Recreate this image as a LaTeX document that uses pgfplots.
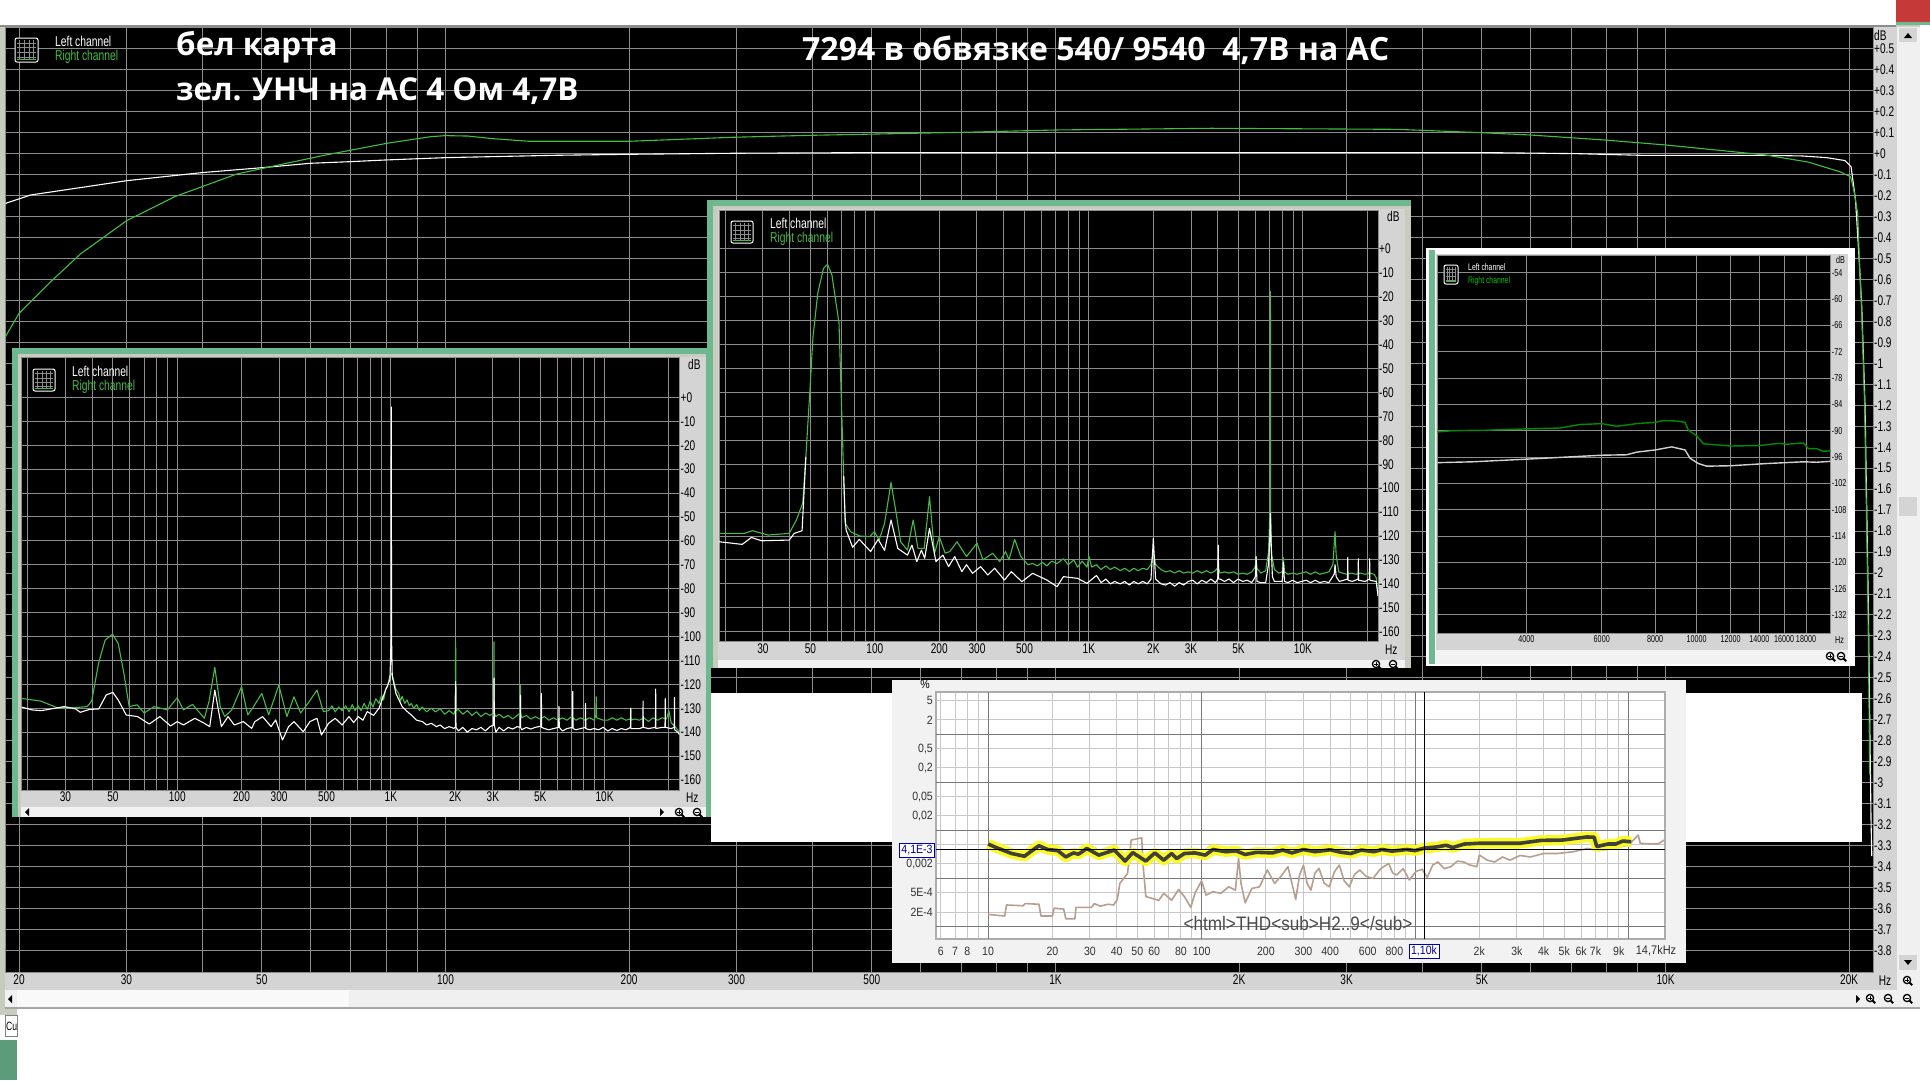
\documentclass[border=0pt]{standalone}
\usepackage{fontspec}
\setmainfont{Liberation Sans}
\newfontfamily\narrow[FakeStretch=0.72]{Liberation Sans}
\newfontfamily\semi[FakeStretch=0.88]{Liberation Sans}
\newfontfamily\headf{Open Sans}
\usepackage{pgfplots}
\pgfplotsset{compat=1.18}

\definecolor{gridc}{RGB}{140,140,140}
\definecolor{band}{RGB}{212,212,212}
\definecolor{winline}{RGB}{200,204,190}
\definecolor{pgreen}{RGB}{109,184,143}
\definecolor{sgreen}{RGB}{70,185,70}
\definecolor{lgreen}{RGB}{64,190,64}
\definecolor{tan}{RGB}{184,158,142}
\definecolor{thdy}{RGB}{250,250,40}
\definecolor{thdk}{RGB}{64,64,56}
\definecolor{lightg}{RGB}{200,200,200}
\definecolor{darkg}{RGB}{120,120,120}

% defaults shared by every axis
\pgfplotsset{
  scale only axis,
  major tick length=0pt, minor tick length=0pt, minor tick num=0,
  xmajorgrids, ymajorgrids,
  no markers,
  every axis plot/.append style={line join=round},
}
\newcommand\magn[3]{%
  \draw[black,line width=1.3pt] (#1,-#2) circle (3.6);
  \draw[black,line width=1.8pt] (#1+2.6,-#2-2.6) -- (#1+5.2,-#2-5.2);
  \draw[black,line width=0.8pt] (#1-2,-#2) -- (#1+2,-#2);
  \ifnum#3=1 \draw[black,line width=0.8pt] (#1,-#2-2) -- (#1,-#2+2);\fi
}
\newcommand\icon[4]{%
  \draw[white,fill=black,line width=1pt,rounded corners=2pt] (#1,-#2) rectangle (#3,-#4);
  \foreach \k in {0.2,0.4,0.6,0.8}{
    \draw[gridc,line width=0.5pt] ({#1+\k*(#3-#1)},-#2-2) -- ({#1+\k*(#3-#1)},-#4+2);
    \draw[gridc,line width=0.5pt] (#1+2,{-#2-\k*(#4-#2)}) -- (#3-2,{-#2-\k*(#4-#2)});
  }
  \draw[lgreen,line width=1pt] (#1+2,-#4+3) -- (#3-2,-#4+3);
}
% small window text: x, y (down), size, anchor, colour, text
\newcommand\lab[6]{\node[anchor=#4,inner sep=0pt,text=#5,font=\narrow\fontsize{#3}{#3}\selectfont] at (#1,-#2) {#6};}

\begin{document}
\begin{tikzpicture}[x=1pt,y=1pt]
\useasboundingbox (0,0) rectangle (1930,-1080);
\fill[white] (0,0) rectangle (1930,-1080);
% window frame
\fill[winline] (0,-25) rectangle (1920,-1015);
\fill[gridc] (0,-25) rectangle (1896,-27);
\fill[white] (17,-1009) rectangle (1930,-1080);
\fill[pgreen!85!black] (0,-1040) rectangle (17,-1080);
\draw[gray,fill=white] (5,-1015) rectangle (17,-1036);
\node[anchor=west,inner sep=1pt,font=\narrow\fontsize{12}{12}\selectfont] at (5,-1026) {Cu};
\fill[pgreen] (1896,-22) rectangle (1930,-25);
\fill[red!55!gray] (1896,0) rectangle (1930,-22);
\fill[band] (5,-973) rectangle (1897,-990);
\fill[band] (1873,-27) rectangle (1897,-990);
\fill[gray!12] (1897,-27) rectangle (1920,-1008);
\fill[gray!12] (5,-990) rectangle (1920,-1008);
\fill[gray!5] (17,-990) rectangle (349,-1007);
\draw[gray!70,line width=1.2pt] (5,-1008) -- (1920,-1008);
\fill[band] (1899,-28) rectangle (1917,-42);
\fill[black] (1904,-38) -- (1912,-38) -- (1908,-33) -- cycle;
\fill[band] (1899,-497) rectangle (1917,-516);
\fill[band] (1899,-955) rectangle (1917,-970);
\fill[black] (1904,-960) -- (1912,-960) -- (1908,-965) -- cycle;
\fill[black] (8,-999) -- (12,-995) -- (12,-1003) -- cycle;
\fill[black] (1856,-995) -- (1856,-1003) -- (1860,-999) -- cycle;

\begin{semilogxaxis}[width=1868pt, height=945.7pt,
  xmin=18.97, xmax=21880, ymin=-3.906, ymax=0.604,
  axis background/.style={fill=black},
  axis line style={draw=gridc,line width=0.6pt},
  grid style={draw=gridc,line width=1pt},
  yticklabel pos=right,
  xtick={20,30,40,50,60,70,80,90,100,200,300,400,500,600,700,800,900,1000,2000,3000,4000,5000,6000,7000,8000,9000,10000,20000},
  xticklabels={20,30,,50,,,,,100,200,300,,500,,,,,1K,2K,3K,,5K,,,,,10K,20K},
  ytick={0.5,0.4,0.3,0.2,0.1,0,-0.1,-0.2,-0.3,-0.4,-0.5,-0.6,-0.7,-0.8,-0.9,-1,-1.1,-1.2,-1.3,-1.4,-1.5,-1.6,-1.7,-1.8,-1.9,-2,-2.1,-2.2,-2.3,-2.4,-2.5,-2.6,-2.7,-2.8,-2.9,-3,-3.1,-3.2,-3.3,-3.4,-3.5,-3.6,-3.7,-3.8},
  yticklabels={+0.5,+0.4,+0.3,+0.2,+0.1,+0,-0.1,-0.2,-0.3,-0.4,-0.5,-0.6,-0.7,-0.8,-0.9,-1,-1.1,-1.2,-1.3,-1.4,-1.5,-1.6,-1.7,-1.8,-1.9,-2,-2.1,-2.2,-2.3,-2.4,-2.5,-2.6,-2.7,-2.8,-2.9,-3,-3.1,-3.2,-3.3,-3.4,-3.5,-3.6,-3.7,-3.8},
  tick label style={font=\narrow\fontsize{14}{14}\selectfont,inner sep=1pt},
  xticklabel style={yshift=-1pt},
  at={(5pt,-27pt)}, anchor=north west,
]
\addplot[white,line width=1.1pt] coordinates {
(19,-0.237) (20.9,-0.197) (25.2,-0.162) (30,-0.129) (40,-0.09) (50,-0.067) (60,-0.046) (70,-0.038)
(80,-0.03) (100,-0.019) (150,-0.008) (200,-0.003) (300,0.002) (500,0.005) (5095,0.005) (7160,0)
(9140,-0.008) (14550,-0.008) (16760,-0.011) (18370,-0.019) (19690,-0.033) (20140,-0.062) (20480,-0.22)
(20800,-0.54) (20970,-0.73) (21230,-1.2) (21500,-2.16) (21640,-2.83) (21720,-3.19) (21780,-3.35)
};
\addplot[lgreen,line width=1.1pt] coordinates {
(19,-0.873) (20,-0.762) (22.4,-0.618) (25.2,-0.479) (30,-0.32) (36,-0.205) (45.5,-0.097) (51.7,-0.062)
(63.7,-0.006) (80,0.049) (94.6,0.081) (100,0.086) (108.8,0.084) (119,0.072) (137,0.059) (200,0.059)
(295,0.078) (390,0.087) (710,0.102) (1005,0.113) (1800,0.121) (3630,0.116) (4990,0.10) (6000,0.089)
(7960,0.065) (10040,0.041) (14560,-0.006) (17130,-0.04) (19300,-0.086) (20100,-0.11) (20350,-0.173)
(20650,-0.285) (20800,-0.54) (20950,-0.73) (21200,-1.2) (21470,-2.16) (21610,-2.96)
};
\end{semilogxaxis}
\icon{15}{38}{38}{62}
\lab{55}{41}{14.3}{west}{white}{Left channel}
\lab{55}{57}{14.3}{west}{lgreen}{Right channel}
\node[anchor=west,inner sep=0pt,white,font=\headf\bfseries\fontsize{31.5}{31.5}\selectfont] at (176,-47) {бел карта};
\node[anchor=west,inner sep=0pt,white,font=\headf\bfseries\fontsize{31.5}{31.5}\selectfont] at (176,-91) {зел. УНЧ на АС 4 Ом 4,7В};
\node[anchor=west,inner sep=0pt,white,font=\headf\bfseries\fontsize{32}{32}\selectfont] at (802,-50) {7294 в обвязке 540/ 9540\ \ 4,7В на АС};
\lab{1874}{35}{14}{west}{black}{dB}
\lab{1885}{981}{14}{center}{black}{Hz}
\magn{1870}{998}{1} \magn{1888}{998}{0} \magn{1907}{998}{0} \magn{1907}{980}{1}

% left spectrum window
\fill[pgreen] (12,-348) rectangle (711,-817);
\fill[winline] (18,-354) rectangle (706,-817);
\fill[band] (21,-357) rectangle (706,-817);
\fill[gray!10] (21,-807) rectangle (706,-817);
\begin{semilogxaxis}[width=657.9pt, height=432.3pt,
  xmin=18.7, xmax=22430, ymin=-164.2, ymax=16.6,
  axis background/.style={fill=black},
  axis line style={draw=gridc,line width=0.6pt},
  grid style={draw=gridc,line width=1pt},
  yticklabel pos=right,
  xtick={20,30,40,50,60,70,80,90,100,200,300,400,500,600,700,800,900,1000,2000,3000,4000,5000,6000,7000,8000,9000,10000,20000},
  xticklabels={,30,,50,,,,,100,200,300,,500,,,,,1K,2K,3K,,5K,,,,,10K,},
  ytick={0,-10,-20,-30,-40,-50,-60,-70,-80,-90,-100,-110,-120,-130,-140,-150,-160},
  yticklabels={+0,-10,-20,-30,-40,-50,-60,-70,-80,-90,-100,-110,-120,-130,-140,-150,-160},
  tick label style={font=\narrow\fontsize{14}{14}\selectfont,inner sep=1pt},
  xticklabel style={yshift=-1pt},
  at={(21.6pt,-357.7pt)}, anchor=north west]
\pgfplotsinvokeforeach{0,-10,-20,-30,-40,-50,-60,-70,-80,-90,-100,-110,-120,-130,-140,-150,-160}{
  \addplot[gridc,line width=1pt,forget plot] coordinates {(18.7,#1) (22430,#1)};
}
\addplot[sgreen,line width=1.1pt] coordinates {
(18.7,-125.9) (23,-127) (27.5,-129.8) (32.7,-129.8) (37.9,-129.3) (39.8,-127) (42.9,-111) (46,-101.5)
(49.8,-99) (53,-103) (56.3,-115.4) (59.6,-129.3) (65,-128.6) (70,-132) (78,-129.3) (90,-130.7) (100,-125.6)
(107,-130.7) (118,-128.4) (134,-134.2) (141,-127) (150,-112.9) (159,-129.3) (167,-133.5) (180,-130.7)
(200,-121) (214,-132.8) (225,-130) (249,-123.8) (268,-132.8) (299,-120.3) (326,-133.5) (352,-125.2)
(378,-132) (415,-127.2) (451,-122.4) (483,-131.4) (511,-131) (530,-129) (549,-131.5) (570,-129.5)
(591,-131) (615,-129) (637,-131.5) (660,-128.5) (680,-131) (703,-129) (725,-131) (750,-128) (776,-130.5)
(800,-127) (825,-129.5) (850,-126) (880,-128) (905,-124.5) (925,-126.5) (945,-122) (965,-121) (985,-117)
(1000,-115.4) (1015,-116) (1040,-120) (1056,-122) (1090,-124) (1110,-127) (1129,-125) (1160,-128)
(1190,-126.5) (1220,-129) (1245,-128) (1280,-130) (1320,-128.5) (1360,-131) (1400,-129.5) (1470,-131.5)
(1545,-130) (1620,-131.5) (1700,-130.2) (1785,-132.5) (1875,-131) (1970,-132.5) (2000,-131) (2010,-102.2)
(2020,-131) (2070,-130.5) (2170,-132.5) (2280,-131) (2395,-133) (2515,-131.5) (2640,-133.5) (2770,-132)
(2910,-133) (3030,-132) (3040,-102.2) (3050,-132) (3100,-133.5) (3210,-132.5) (3370,-134) (3540,-133)
(3715,-134.5) (3900,-133) (4030,-132) (4040,-120.3) (4050,-132) (4095,-134) (4300,-133) (4515,-134.5)
(4740,-133.5) (4980,-134.5) (5230,-133.5) (5490,-135) (5765,-134) (6050,-135) (6355,-134) (6670,-135)
(7005,-133.5) (7355,-135) (7720,-134) (8105,-135) (8510,-134) (8935,-135) (9100,-133) (9140,-125.2)
(9180,-134) (9855,-135) (10350,-135) (10865,-134) (11410,-135) (11980,-134) (12580,-135) (13220,-134.5)
(13260,-130) (13300,-135) (13870,-134.5) (14560,-135) (15290,-134) (16055,-135.5) (16860,-134) (17700,-135)
(18585,-134) (19515,-134.5) (20000,-131) (20490,-136) (21515,-138) (22430,-140)
};
\addplot[white,line width=1.1pt] coordinates {
(18.7,-129.5) (20.9,-130.7) (23.1,-131) (26.8,-130) (29.6,-129.3) (33.5,-130.3) (35.2,-131.7) (38.8,-130.5)
(42.9,-130.3) (46.6,-124.4) (50,-123.4) (53,-126.6) (57.7,-132.8) (65.3,-133.5) (74,-136.6) (83,-133.5)
(93,-137.4) (100,-135.6) (107,-137) (121,-134.2) (134,-136.3) (142,-137.7) (150,-122.4) (161,-137.7)
(173,-133.5) (185,-137) (204,-135.6) (223,-138.4) (231,-135.6) (251,-133.5) (275,-137.7) (289,-134.9)
(311,-143.3) (332,-137.7) (352,-135.6) (389,-139.8) (418,-135.6) (451,-134.2) (473,-141.2) (511,-136.3)
(549,-134.2) (591,-137) (637,-133.5) (670,-136) (703,-133.5) (740,-135) (776,-131.4) (830,-133) (880,-130)
(945,-122.4) (990,-118) (1003,-100) (1005,-4) (1007,-100) (1015,-116.5) (1056,-123.8) (1129,-129.3)
(1180,-131) (1245,-132.8) (1320,-135) (1405,-135.6) (1470,-137) (1545,-136.3) (1635,-137.7) (1700,-137)
(1785,-138.5) (1875,-137.7) (1970,-138.4) (2003,-138) (2010,-118.9) (2017,-138) (2070,-139.5) (2170,-138)
(2280,-140) (2395,-138.5) (2515,-139) (2640,-138) (2770,-139.5) (2910,-137.7) (3030,-137) (3040,-117.5)
(3050,-137) (3100,-140) (3210,-138) (3370,-139.5) (3540,-138) (3715,-138.7) (3900,-137.7) (4030,-138)
(4040,-124.5) (4050,-138) (4095,-139) (4300,-138) (4515,-138.7) (4740,-138) (5040,-137.5) (5060,-123.8)
(5080,-138) (5230,-138.5) (5490,-139) (5765,-138.5) (6100,-138) (6120,-129.3) (6140,-138) (6355,-139.5)
(6670,-138.5) (7080,-138) (7100,-123) (7120,-138.5) (7355,-139) (7720,-138.5) (8130,-138) (8150,-128)
(8170,-138.5) (8510,-139) (8935,-138.5) (9385,-139) (9855,-138) (10350,-139.5) (10865,-138.5) (11410,-139.3)
(11980,-138.5) (12580,-139) (13230,-138) (13260,-130) (13290,-138.5) (14560,-138.5) (15120,-138) (15150,-127)
(15180,-138) (16055,-138.5) (17310,-138) (17350,-122) (17390,-138.5) (18585,-138) (19190,-138) (19230,-126)
(19270,-138) (20490,-138.5) (21200,-138) (21240,-125.5) (21280,-139) (22000,-140) (22430,-141)
};
\end{semilogxaxis}
\icon{33}{369}{55}{391}
\lab{72}{371}{14.3}{west}{white}{Left channel}
\lab{72}{387}{14.3}{west}{sgreen}{Right channel}
\lab{688}{364}{14}{west}{black}{dB}
\lab{686}{798}{14}{west}{black}{Hz}
\magn{679}{812}{1} \magn{697}{812}{0}
\fill[black] (25,-812) -- (29,-808) -- (29,-816) -- cycle;
\fill[black] (660,-808) -- (660,-816) -- (664,-812) -- cycle;

% middle spectrum window
\fill[pgreen] (707,-200) rectangle (1411,-668);
\fill[winline] (713,-206) rectangle (1411,-668);
\fill[band] (718,-209) rectangle (1405,-668);
\fill[gray!10] (718,-660) rectangle (1405,-668);
\begin{semilogxaxis}[width=659pt, height=431.7pt,
  xmin=18.7, xmax=22430, ymin=-164.2, ymax=16.3,
  axis background/.style={fill=black},
  axis line style={draw=gridc,line width=0.6pt},
  grid style={draw=gridc,line width=1pt},
  yticklabel pos=right,
  xtick={20,30,40,50,60,70,80,90,100,200,300,400,500,600,700,800,900,1000,2000,3000,4000,5000,6000,7000,8000,9000,10000,20000},
  xticklabels={,30,,50,,,,,100,200,300,,500,,,,,1K,2K,3K,,5K,,,,,10K,},
  ytick={0,-10,-20,-30,-40,-50,-60,-70,-80,-90,-100,-110,-120,-130,-140,-150,-160},
  yticklabels={+0,-10,-20,-30,-40,-50,-60,-70,-80,-90,-100,-110,-120,-130,-140,-150,-160},
  tick label style={font=\narrow\fontsize{14}{14}\selectfont,inner sep=1pt},
  xticklabel style={yshift=-1pt},
  at={(719pt,-210pt)}, anchor=north west]
\pgfplotsinvokeforeach{0,-10,-20,-30,-40,-50,-60,-70,-80,-90,-100,-110,-120,-130,-140,-150,-160}{
  \addplot[gridc,line width=1pt,forget plot] coordinates {(18.7,#1) (22430,#1)};
}
\addplot[sgreen,line width=1.1pt] coordinates {
(18.7,-118.9) (24.6,-118.9) (26.8,-117.8) (31.7,-119.6) (39.8,-118.9) (43,-113.3) (46,-106.3) (47.6,-86.8)
(49.3,-64.5) (51.4,-36.7) (54.1,-18.5) (57.5,-8.1) (60.1,-6.4) (63,-10.9) (68,-31) (70.5,-77) (71.5,-95.2)
(72.6,-114.7) (77,-118.2) (85,-120) (94.5,-120.3) (99.5,-118.2) (104.7,-121.7) (111,-114.7) (119,-97.6)
(125,-109.1) (132,-122.4) (142,-125.9) (151,-113.3) (159,-125.2) (170,-125.2) (180,-103.6) (190,-127.2)
(200,-120.3) (213,-127.2) (224,-126.5) (242,-122.4) (268,-128.6) (300,-123) (320,-130) (355,-127.2)
(383,-130.7) (408,-126.5) (423,-130) (450,-121.4) (481,-128.6) (519,-132) (546,-131.5) (575,-132.5)
(605,-131) (636,-132.5) (670,-130.5) (710,-131.5) (760,-129.5) (800,-132) (850,-130) (885,-133) (930,-130.5)
(980,-133) (1000,-128.5) (1030,-133) (1085,-132) (1140,-134) (1200,-132.5) (1260,-134) (1320,-133)
(1400,-134.5) (1470,-133.5) (1545,-134.8) (1620,-133.5) (1700,-134.5) (1785,-133.5) (1875,-134) (1950,-132)
(2000,-127) (2050,-132) (2170,-134) (2280,-135) (2395,-134.5) (2515,-135.5) (2640,-134.5) (2770,-135.5)
(2910,-135) (3055,-135.5) (3210,-134.5) (3370,-135.5) (3540,-134.5) (3715,-135.5) (3900,-134.5) (4020,-133)
(4095,-135.5) (4300,-135) (4515,-135.5) (4740,-135) (4980,-136) (5230,-135.5) (5490,-136) (5765,-135)
(5980,-133) (6040,-128.6) (6100,-133.5) (6355,-135.5) (6700,-134.5) (6900,-127) (7000,-112) (7040,-110)
(7050,-17.8) (7060,-110) (7120,-127) (7355,-134) (7720,-135.5) (8000,-135) (8100,-129) (8200,-135) (8510,-136)
(8935,-135.5) (9385,-136) (9855,-135.5) (10350,-135) (10865,-136) (11410,-135) (11980,-136) (12580,-135.5)
(13210,-135) (13800,-132) (14130,-118.2) (14300,-128) (14700,-135) (15290,-135.5) (16055,-136) (16860,-135.5)
(17700,-136) (18585,-135.5) (19515,-136) (20490,-135.5) (21515,-136) (22000,-137.5) (22430,-145)
};
% the left channel's rise and fall lie behind the right channel's peak
\addplot[white,line width=1.1pt] coordinates {
(18.7,-122.4) (24,-123.5) (26.5,-120.6) (29.5,-122) (39.8,-121.7) (42,-118.9) (45.7,-117.8) (46.9,-98) (47.6,-86.8)
};
\addplot[white,line width=1.1pt] coordinates {
(71.5,-95) (72.6,-112) (73.4,-117.5) (78.7,-124.7) (84.6,-121.4) (95.5,-126.5) (103.6,-121.4)
(111,-126) (119,-113.3) (128,-125.2) (142,-128) (149,-123.8) (157,-130.7) (165,-125.9) (171,-129.3) (180,-116.8)
(193,-130.7) (208,-128) (221,-132.8) (236,-128.6) (255,-134.9) (268,-132) (286,-135.6) (312,-132.8) (337,-136.3)
(363,-133.5) (403,-138.4) (434,-134.9) (486,-139.1) (546,-135.6) (636,-138.4) (710,-141.2) (760,-137)
(885,-137.7) (980,-139.8) (1085,-136.5) (1140,-139.5) (1200,-138) (1260,-140) (1320,-139) (1400,-140) (1470,-139)
(1545,-140.5) (1620,-139) (1700,-140) (1785,-139) (1875,-140) (1950,-138) (1990,-125) (2000,-121) (2010,-125)
(2050,-138) (2170,-140) (2280,-140.5) (2395,-139.5) (2515,-141) (2640,-139.5) (2770,-140.5) (2910,-139)
(3055,-138.5) (3210,-140) (3370,-138.5) (3540,-139.5) (3715,-138) (3900,-139.5) (4000,-138) (4020,-123.8)
(4040,-138) (4095,-138) (4300,-139) (4515,-138) (4740,-139.5) (4980,-138) (5230,-139) (5490,-138.5) (5765,-139.5)
(6000,-137) (6040,-128.6) (6100,-139) (6355,-139.5) (6700,-139.5) (6900,-132) (7000,-122) (7050,-110.5) (7100,-122)
(7200,-137) (7355,-139) (7720,-139) (8000,-139) (8100,-131) (8200,-139) (8510,-139.5) (8935,-138.5) (9385,-139.5)
(9855,-139) (10350,-138.5) (10865,-139.5) (11410,-138.5) (11980,-139.5) (12580,-139) (13210,-139.5) (14000,-136)
(14130,-132) (14300,-137) (14800,-139) (15500,-138.5) (16150,-138) (16200,-129) (16250,-138.5) (17000,-139)
(18100,-138) (18150,-129.5) (18200,-138.5) (19500,-139) (20450,-138) (20500,-129.5) (20550,-138.5) (22000,-139)
(22430,-145)
};
\end{semilogxaxis}
\icon{731}{221}{753}{243}
\lab{770}{223}{14.3}{west}{white}{Left channel}
\lab{770}{239}{14.3}{west}{sgreen}{Right channel}
\lab{1387}{216}{14}{west}{black}{dB}
\lab{1385}{650}{14}{west}{black}{Hz}
\magn{1376}{664}{1} \magn{1393}{664}{0}

% right spectrum window
\fill[white] (1426,-248) rectangle (1855,-666);
\fill[pgreen] (1429,-250) rectangle (1435,-664);
\fill[band] (1436,-254) rectangle (1848,-664);
\fill[gray!10] (1436,-650) rectangle (1848,-664);
\begin{semilogxaxis}[width=393.4pt, height=378.3pt,
  xmin=2478, xmax=20560, ymin=-136.2, ymax=-49.96,
  axis background/.style={fill=black},
  axis line style={draw=gridc,line width=0.6pt},
  grid style={draw=gridc,line width=0.8pt},
  yticklabel pos=right,
  xtick={4000,6000,8000,10000,12000,14000,16000,18000},
  xticklabels={4000,6000,8000,10000,12000,14000,16000,18000},
  ytick={-54,-60,-66,-72,-78,-84,-90,-96,-102,-108,-114,-120,-126,-132},
  yticklabels={-54,-60,-66,-72,-78,-84,-90,-96,-102,-108,-114,-120,-126,-132},
  tick label style={font=\narrow\fontsize{10}{10}\selectfont,inner sep=1pt},
  xticklabel style={yshift=-1pt},
  at={(1437.3pt,-255pt)}, anchor=north west,
]
\pgfplotsinvokeforeach{-54,-60,-66,-72,-78,-84,-90,-96,-102,-108,-114,-120,-126,-132}{
  \addplot[gridc,line width=0.8pt,forget plot] coordinates {(2478,#1) (20560,#1)};
}
\addplot[green!55!black,line width=1.4pt] coordinates {
(2478,-90.3) (2696,-90) (3225,-89.9) (4000,-89.6) (4795,-89.4) (5336,-88.6) (6000,-88.4) (6500,-89) (7240,-88.4)
(8000,-88.1) (8360,-87.7) (8970,-87.8) (9390,-88.1) (9560,-89.9) (10000,-91.2) (10370,-93) (11990,-93.5)
(14000,-93.4) (15540,-92.9) (16240,-93.1) (17750,-92.8) (18240,-94.1) (19050,-94.1) (19750,-94.7) (20560,-94.6)
};
\addplot[white!82!black,line width=1.4pt] coordinates {
(2478,-97.3) (3000,-97.1) (4000,-96.5) (5240,-95.9) (6000,-95.6) (6860,-95.5) (7240,-94.9) (8000,-94.4) (8740,-93.7)
(9390,-94.4) (9650,-96.3) (10090,-97.5) (10550,-98.1) (11990,-98) (14570,-97.5) (17750,-97.1) (19050,-97.2) (20560,-97)
};
\end{semilogxaxis}
\icon{1444}{265}{1458}{284}
\lab{1468}{267}{9.5}{west}{white}{Left channel}
\lab{1468}{281}{9.5}{west}{green!75!black}{Right channel}
\lab{1836}{260}{10}{west}{black}{dB}
\lab{1835}{640}{10}{west}{black}{Hz}
\magn{1830}{656}{1} \magn{1841}{656}{0}

% white paste behind the THD inset
\fill[white] (711,-693) rectangle (1862,-842);
\fill[gray!10] (891.5,-680) rectangle (1685.5,-963);
\begin{loglogaxis}[width=729.3pt, height=247pt,
  xmin=5.67, xmax=14790, ymin=5.4e-5, ymax=7.5,
  axis background/.style={fill=white},
  axis line style={draw=gray!65,line width=2pt},
  grid style={draw=lightg,line width=1pt},
  xtick={6,7,8,9,20,30,40,50,60,70,80,90,200,300,400,500,600,700,800,900,2000,3000,4000,5000,6000,7000,8000,9000},
  xticklabels={6,7,8,,20,30,40,50,60,,80,,200,300,400,,600,,800,,2k,3k,4k,5k,6k,7k,,9k},
  extra x ticks={10,100,1000,10000},
  extra x tick labels={10,100,,},
  extra x tick style={grid style={draw=darkg,line width=1pt}},
  ytick={5,2,0.5,0.2,0.05,0.02,0.005,0.002,5e-4,2e-4},
  yticklabels={5,2,{0,5},{0,2},{0,05},{0,02},,{0,002},5E-4,2E-4},
  extra y ticks={1,0.1,0.01,0.001,1e-4},
  extra y tick labels={,,,,},
  extra y tick style={grid style={draw=darkg,line width=1pt}},
  tick label style={font=\semi\fontsize{12}{12}\selectfont,inner sep=1.5pt,text=black!80},
  xticklabel style={yshift=-6pt},
  yticklabel style={xshift=-1pt},
  at={(935.5pt,-692.3pt)}, anchor=north west,
]
\addplot[tan,line width=1.6pt] coordinates {
(10,1.78e-4) (11.95,1.65e-4) (12.2,2.8e-4) (14.6,2.7e-4) (14.9,3e-4) (17.3,2.9e-4) (17.7,1.65e-4) (20,1.65e-4)
(20.4,2.4e-4) (22.6,2.3e-4) (23.1,1.45e-4) (25.5,1.45e-4) (25.8,2.5e-4) (30.5,2.5e-4) (31.4,3e-4) (33.5,2.65e-4)
(36.5,2.9e-4) (38.7,2.8e-4) (40.3,3.65e-4) (41.4,7.9e-4) (45,1.27e-3) (46.8,6.3e-3) (52.4,7e-3) (53.3,1.75e-3)
(54.8,4.2e-4) (63,3.5e-4) (66.5,4.9e-4) (72.4,3.5e-4) (78,5.9e-4) (83,4.2e-4) (89,2.5e-4) (93,4.9e-4) (100,8.9e-4)
(105,4.5e-4) (113,5.3e-4) (123,4.9e-4) (134,6.7e-4) (144,5.7e-4) (149,2.6e-3) (153,7.9e-4) (160,3.1e-4) (172,6.2e-4)
(187,6.7e-4) (203,1.5e-3) (220,7.9e-4) (235,1.1e-3) (254,1.75e-3) (276,3.65e-4) (288,1.2e-3) (300,1.9e-3) (312,8e-4)
(325,5.7e-4) (340,1.3e-3) (355,1.62e-3) (375,8e-4) (396,6.7e-4) (420,1.4e-3) (442,1.9e-3) (465,9e-4) (492,6.7e-4)
(520,1.2e-3) (551,1.5e-3) (590,1.1e-3) (635,1e-3) (690,1.6e-3) (753,2.05e-3) (785,1.3e-3) (821,1.18e-3) (880,1.6e-3)
(940,9.3e-4) (1010,1.4e-3) (1080,1.55e-3) (1140,1.05e-3) (1210,1.9e-3) (1280,2.2e-3) (1370,1.6e-3) (1470,1.75e-3)
(1580,2.3e-3) (1690,2.2e-3) (1810,1.9e-3) (1945,1.75e-3) (2000,3.06e-3) (2180,2.4e-3) (2360,2.2e-3) (2570,2.8e-3)
(2780,2.4e-3) (3100,3e-3) (3470,2.8e-3) (4000,3.3e-3) (4630,3.3e-3) (5500,3.6e-3) (6450,4.2e-3) (7300,3.8e-3)
(8250,4.2e-3) (10000,4.9e-3) (11100,8e-3) (11350,5.36e-3) (13700,5.2e-3) (14700,6.3e-3)
};
\addplot[thdy,line width=10.5pt] coordinates {
(10,5.2e-3) (10.9,4.4e-3) (12.9,3.3e-3) (14.8,2.9e-3) (15.8,3.6e-3) (17.3,4.8e-3) (19,4e-3) (21.2,3.8e-3)
(23.1,2.8e-3) (25.1,3.4e-3) (26.5,3.2e-3) (29,4.2e-3) (33,3.06e-3) (39,3.9e-3) (43.8,2.3e-3) (47.6,3.45e-3)
(54.8,2.3e-3) (60.4,3.4e-3) (66.5,2.4e-3) (72.4,3.3e-3) (76.5,2.6e-3) (83,3.3e-3) (93,3.4e-3) (104,3.06e-3)
(113,4e-3) (130,3.6e-3) (145,3.75e-3) (160,3.15e-3) (181,3.5e-3) (215,3.4e-3) (240,3.9e-3) (265,3.4e-3) (300,4e-3)
(340,3.6e-3) (400,3.95e-3) (450,3.5e-3) (500,3.3e-3) (560,3.9e-3) (640,3.6e-3) (700,4e-3) (780,3.7e-3) (914,4e-3)
(1000,3.8e-3) (1110,4.3e-3) (1250,4.5e-3) (1400,4.9e-3) (1500,4.4e-3) (1700,5.2e-3) (2000,5.4e-3) (3100,5.4e-3)
(3900,6.2e-3) (4900,6.3e-3) (6400,7.3e-3) (6900,7.2e-3) (7100,4.6e-3) (8000,5.2e-3) (8700,5.2e-3) (9400,6e-3) (10300,5.8e-3)
};
\addplot[thdk,line width=3.6pt] coordinates {
(10,5.2e-3) (10.9,4.4e-3) (12.9,3.3e-3) (14.8,2.9e-3) (15.8,3.6e-3) (17.3,4.8e-3) (19,4e-3) (21.2,3.8e-3)
(23.1,2.8e-3) (25.1,3.4e-3) (26.5,3.2e-3) (29,4.2e-3) (33,3.06e-3) (39,3.9e-3) (43.8,2.3e-3) (47.6,3.45e-3)
(54.8,2.3e-3) (60.4,3.4e-3) (66.5,2.4e-3) (72.4,3.3e-3) (76.5,2.6e-3) (83,3.3e-3) (93,3.4e-3) (104,3.06e-3)
(113,4e-3) (130,3.6e-3) (145,3.75e-3) (160,3.15e-3) (181,3.5e-3) (215,3.4e-3) (240,3.9e-3) (265,3.4e-3) (300,4e-3)
(340,3.6e-3) (400,3.95e-3) (450,3.5e-3) (500,3.3e-3) (560,3.9e-3) (640,3.6e-3) (700,4e-3) (780,3.7e-3) (914,4e-3)
(1000,3.8e-3) (1110,4.3e-3) (1250,4.5e-3) (1400,4.9e-3) (1500,4.4e-3) (1700,5.2e-3) (2000,5.4e-3) (3100,5.4e-3)
(3900,6.2e-3) (4900,6.3e-3) (6400,7.3e-3) (6900,7.2e-3) (7100,4.6e-3) (8000,5.2e-3) (8700,5.2e-3) (9400,6e-3) (10300,5.8e-3)
};
\addplot[black,line width=0.8pt] coordinates {(5.67,4.1e-3) (14790,4.1e-3)};
\addplot[black,line width=0.8pt] coordinates {(1100,5.4e-5) (1100,7.5)};
\end{loglogaxis}
\node[font=\semi\fontsize{12}{12}\selectfont,inner sep=0pt] at (925,-684) {\%};
\node[anchor=center,font=\semi\fontsize{12.5}{12.5}\selectfont,inner sep=0pt,text=black!80] at (1656,-951) {14,7kHz};
\node[draw=blue!70!black,fill=white,line width=0.8pt,inner sep=2pt,text=blue!60!black,font=\semi\fontsize{12}{12}\selectfont] at (1424,-951) {1,10k};
\node[draw=blue!70!black,fill=white,line width=0.8pt,inner sep=2pt,text=blue!60!black,font=\semi\fontsize{12}{12}\selectfont] at (917,-850) {4,1E-3};
\node[font=\semi\fontsize{19.5}{19.5}\selectfont,text=black!70,inner sep=0pt] at (1298,-924) {<html>THD<sub>H2..9</sub>};
\end{tikzpicture}
\end{document}
